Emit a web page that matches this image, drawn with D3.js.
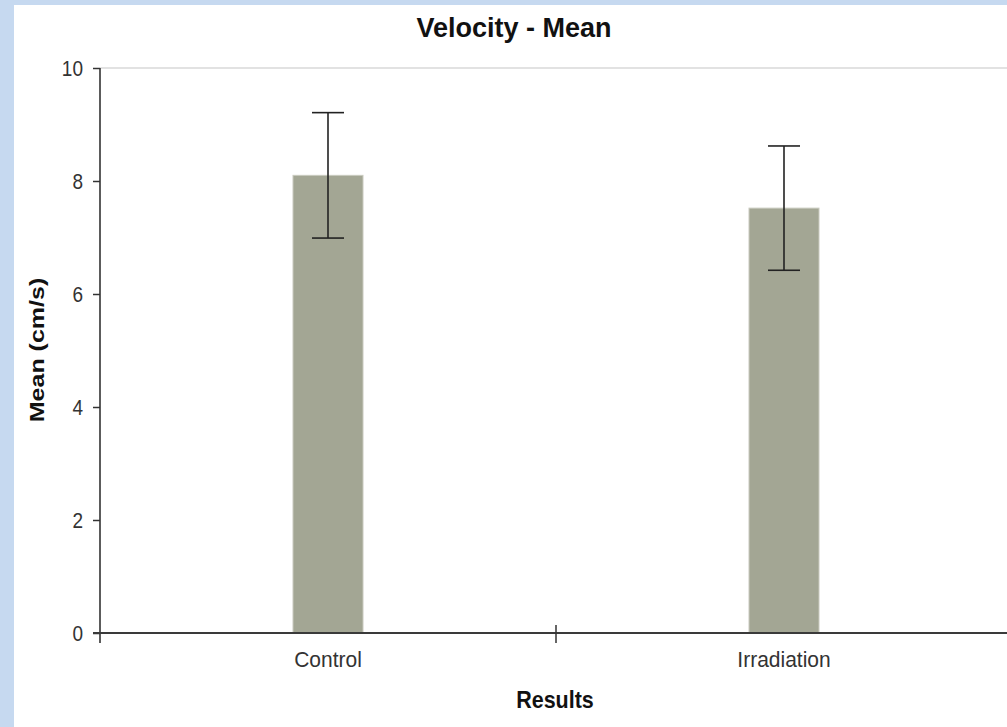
<!DOCTYPE html>
<html>
<head>
<meta charset="utf-8">
<script src="https://cdn.jsdelivr.net/npm/d3@7"></script>
<style>
  html, body { margin: 0; padding: 0; background: #c6d9f0; }
  svg { display: block; }
  text { font-family: "Liberation Sans", Arial, sans-serif; }
</style>
</head>
<body>
<svg id="chart" width="1007" height="727"></svg>
<script>
// Mean velocity per group with its error (± range)
const categories = ["Control", "Irradiation"];
const means = [8.1, 7.52];
const errors = [1.11, 1.1];
const yTicks = [0, 2, 4, 6, 8, 10];

const W = 1007, H = 727;
const svg = d3.select("#chart");

// white page panel inset from the blue frame
svg.append("rect").attr("x", 14).attr("y", 5).attr("width", W - 14).attr("height", H - 5).attr("fill", "#ffffff");

const m = { left: 100, right: -5, top: 68, bottom: 94 };
const x = d3.scaleBand().domain(categories).range([m.left, W - m.right]);
const y = d3.scaleLinear().domain([0, 10]).range([H - m.bottom, m.top]);

// top gridline
svg.append("line")
  .attr("x1", m.left).attr("x2", W)
  .attr("y1", y(10)).attr("y2", y(10))
  .attr("stroke", "#e2e2e2").attr("stroke-width", 2);

// bars
const barW = 70;
svg.selectAll("rect.bar").data(categories).enter().append("rect")
  .attr("class", "bar")
  .attr("x", d => x(d) + x.bandwidth() / 2 - barW / 2)
  .attr("y", (d, i) => y(means[i]))
  .attr("width", barW)
  .attr("height", (d, i) => y(0) - y(means[i]))
  .attr("fill", "#a3a694")
  .attr("stroke", "#c9cabf").attr("stroke-width", 1);

// error bars
const cap = 16;
const eb = svg.selectAll("g.err").data(categories).enter().append("g").attr("class", "err")
  .attr("stroke", "#222").attr("stroke-width", 1.6);
eb.append("line")
  .attr("x1", d => x(d) + x.bandwidth() / 2).attr("x2", d => x(d) + x.bandwidth() / 2)
  .attr("y1", (d, i) => y(means[i] + errors[i])).attr("y2", (d, i) => y(means[i] - errors[i]));
eb.append("line")
  .attr("x1", d => x(d) + x.bandwidth() / 2 - cap).attr("x2", d => x(d) + x.bandwidth() / 2 + cap)
  .attr("y1", (d, i) => y(means[i] + errors[i])).attr("y2", (d, i) => y(means[i] + errors[i]));
eb.append("line")
  .attr("x1", d => x(d) + x.bandwidth() / 2 - cap).attr("x2", d => x(d) + x.bandwidth() / 2 + cap)
  .attr("y1", (d, i) => y(means[i] - errors[i])).attr("y2", (d, i) => y(means[i] - errors[i]));

// y axis
const yAxis = svg.append("g").attr("transform", `translate(${m.left},0)`)
  .call(d3.axisLeft(y).tickValues(yTicks).tickSize(7).tickPadding(10));
yAxis.select(".domain").remove();
yAxis.selectAll(".tick line").attr("stroke", "#333").attr("stroke-width", 1.5);
yAxis.selectAll(".tick text").attr("font-size", 19).attr("fill", "#333")
  .attr("font-family", "Liberation Sans, Arial, sans-serif")
  .attr("transform", "scale(1,1.15)");
svg.append("line")
  .attr("x1", m.left).attr("x2", m.left)
  .attr("y1", y(10)).attr("y2", y(0) + 10)
  .attr("stroke", "#333").attr("stroke-width", 1.6);

// x axis
svg.append("line")
  .attr("x1", m.left - 7).attr("x2", W)
  .attr("y1", y(0)).attr("y2", y(0))
  .attr("stroke", "#3a3a3a").attr("stroke-width", 2.2);
// separator tick between categories
svg.append("line")
  .attr("x1", x(categories[1])).attr("x2", x(categories[1]))
  .attr("y1", y(0) - 8).attr("y2", y(0) + 10)
  .attr("stroke", "#333").attr("stroke-width", 1.5);
svg.selectAll("text.cat").data(categories).enter().append("text")
  .attr("class", "cat")
  .attr("transform", d => `translate(${x(d) + x.bandwidth() / 2},${y(0) + 34}) scale(1,1.05)`)
  .attr("text-anchor", "middle")
  .attr("font-size", 21).attr("fill", "#333")
  .text(d => d);

// titles
svg.append("text").attr("x", 514).attr("y", 37).attr("text-anchor", "middle")
  .attr("font-size", 27).attr("font-weight", "bold").attr("fill", "#111")
  .text("Velocity - Mean");
svg.append("text")
  .attr("transform", "translate(555,708) scale(1,1.07)")
  .attr("text-anchor", "middle")
  .attr("font-size", 21.5).attr("font-weight", "bold").attr("fill", "#111")
  .text("Results");
svg.append("text")
  .attr("transform", "translate(44,350) rotate(-90) scale(1.25,1)")
  .attr("text-anchor", "middle")
  .attr("font-size", 20).attr("font-weight", "bold").attr("fill", "#111")
  .text("Mean (cm/s)");
</script>
</body>
</html>
